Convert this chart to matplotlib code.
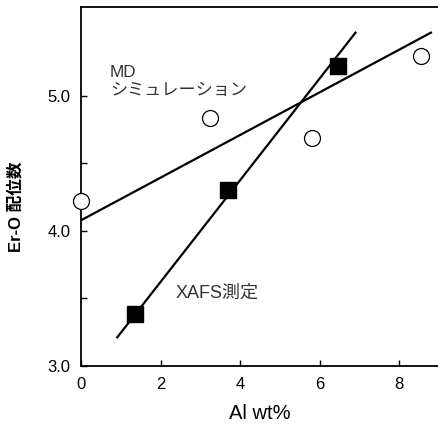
import matplotlib.pyplot as plt

plt.rcParams['font.family'] = ['Liberation Sans', 'Noto Sans CJK JP']

# MD simulation (open circles)
md_x = [0.0, 3.23, 5.81, 8.54]
md_y = [4.22, 4.84, 4.69, 5.30]
# XAFS measurement (filled squares)
xafs_x = [1.36, 3.68, 6.47]
xafs_y = [3.38, 4.30, 5.22]
# fitted lines (end points)
md_fit_x = [0.0, 8.8]
md_fit_y = [4.08, 5.47]
xafs_fit_x = [0.9, 6.9]
xafs_fit_y = [3.21, 5.47]

fig = plt.figure(figsize=(4.38, 4.29), dpi=100)
ax = fig.add_axes([0.186, 0.1476, 0.816, 0.836])

ax.plot(md_fit_x, md_fit_y, color='black', lw=1.6, zorder=2)
ax.plot(xafs_fit_x, xafs_fit_y, color='black', lw=1.6, zorder=2)
ax.plot(md_x, md_y, 'o', ms=11.5, mfc='white', mec='black', mew=0.9,
        clip_on=False, zorder=3)
ax.plot(xafs_x, xafs_y, 's', ms=11.5, color='black', zorder=3)

ax.text(0.72, 5.11, 'MD\nシミュレーション', fontsize=12.3, color='#333333',
        va='center', ha='left', linespacing=1.25)
ax.text(2.37, 3.54, 'XAFS測定', fontsize=13, color='#333333',
        va='center', ha='left')

ax.set_xlim(0, 9.0)
ax.set_ylim(3.0, 5.66)
ax.set_xticks([0, 2, 4, 6, 8])
ax.set_yticks([3.0, 3.5, 4.0, 4.5, 5.0])
ax.set_yticklabels(['3.0', '', '4.0', '', '5.0'])
ax.tick_params(direction='in', length=4, width=1, labelsize=12, pad=8)

for s in ['left', 'bottom', 'top']:
    ax.spines[s].set_linewidth(1.3)
ax.spines['right'].set_visible(False)

fig.text(0.037, 0.517, 'Er-O 配位数', rotation=90, fontsize=12,
         fontweight='bold', ha='center', va='center')
fig.text(0.594, 0.037, 'Al wt%', fontsize=14.5, ha='center', va='center')

fig.savefig('out.png', dpi=100)
